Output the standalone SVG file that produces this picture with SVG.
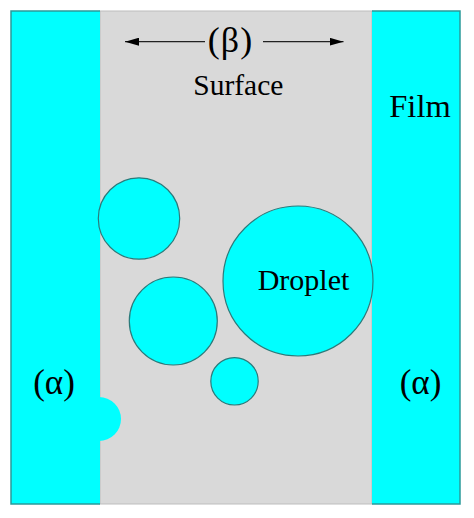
<svg xmlns="http://www.w3.org/2000/svg" width="474" height="518" viewBox="0 0 474 518">
<style>
text{font-family:'Liberation Serif','Times New Roman',serif;fill:#000;text-anchor:middle}
.drop{fill:#00FFFF;stroke:#2B7A7A;stroke-width:1.2}
.band{fill:#00FFFF}
.edge{fill:none;stroke:#2A9A9A;stroke-width:1.5}
.conn{stroke:#222;stroke-width:1.3;fill:none}
</style>
<defs>
<marker id="ah" viewBox="0 0 14 8" refX="14" refY="4" markerWidth="14" markerHeight="8" markerUnits="userSpaceOnUse" orient="auto">
<path d="M0,0 L14,4 L0,8 Z" fill="#000"/>
</marker>
</defs>
<rect width="474" height="518" fill="#fff"/>
<g id="surface">
<rect x="100" y="11" width="272" height="493" fill="#D9D9D9" stroke="#BDBDBD" stroke-width="1"/>
<text x="238.3" y="95" font-size="29.5">Surface</text>
<text x="230.5" y="51.5" font-size="36" letter-spacing="1">(β)</text>
</g>
<g id="film-left">
<rect class="band" x="11" y="11" width="89" height="493"/>
<circle class="band" cx="99" cy="419" r="22"/>
<path class="edge" d="M100,11 H11 V504 H100"/>
<text x="54" y="394" font-size="35">(α)</text>
</g>
<g id="film-right">
<rect class="band" x="372" y="11" width="88" height="493"/>
<path class="edge" d="M372,11 H460 V504 H372"/>
<text x="420" y="117" font-size="32.5">Film</text>
<text x="420.5" y="394" font-size="35">(α)</text>
</g>
<g id="bubble1"><circle class="drop" cx="139" cy="218.5" r="40.7"/></g>
<g id="bubble2"><circle class="drop" cx="173.3" cy="321" r="44"/></g>
<g id="bubble3"><circle class="drop" cx="234.5" cy="381.3" r="23.7"/></g>
<g id="droplet">
<circle class="drop" cx="298" cy="281" r="75"/>
<text x="303.5" y="289.5" font-size="30">Droplet</text>
</g>
<g id="connectors">
<line class="conn" x1="205" y1="41.7" x2="125" y2="41.7" marker-end="url(#ah)"/>
<line class="conn" x1="263" y1="41.7" x2="343.5" y2="41.7" marker-end="url(#ah)"/>
</g>
</svg>
